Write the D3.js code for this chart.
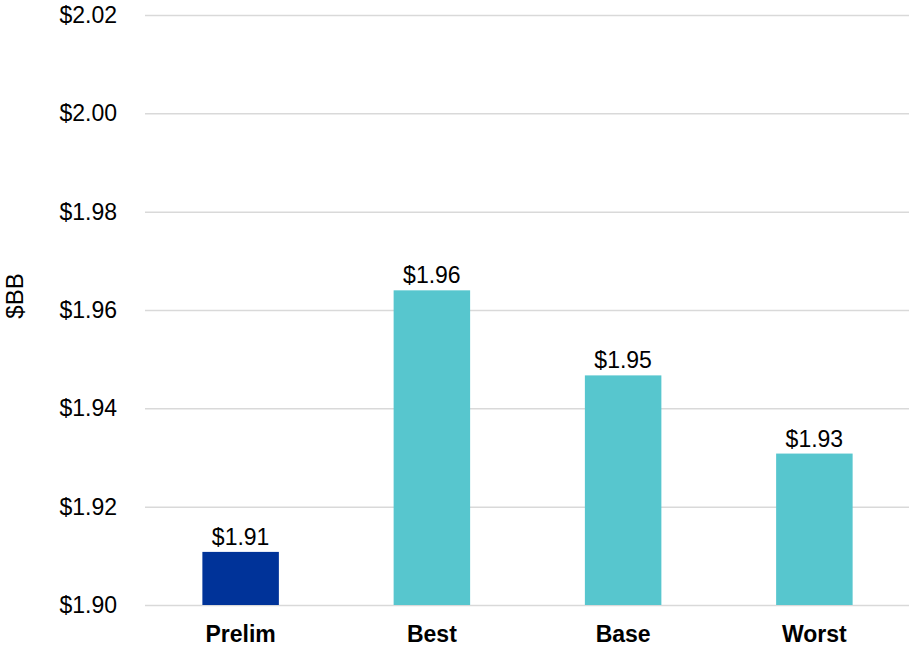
<!DOCTYPE html>
<html>
<head>
<meta charset="utf-8">
<script src="https://cdn.jsdelivr.net/npm/d3@7"></script>
<style>
  html, body { margin: 0; padding: 0; background: #fff; }
  svg { display: block; font-family: "Liberation Sans", Arial, sans-serif; }
</style>
</head>
<body>
<svg id="chart" width="909" height="646"></svg>
<script>
// Scenario totals in billions of dollars
const categories = ["Prelim", "Best", "Base", "Worst"];
const values = [1.9108, 1.9640, 1.9467, 1.9308];
const barColors = ["#003399", "#57C6CE", "#57C6CE", "#57C6CE"];
const yTicks = [1.90, 1.92, 1.94, 1.96, 1.98, 2.00, 2.02];
const yTitle = "$BB";

const svg = d3.select("#chart");
const W = 909, H = 646;
const margin = { top: 15, right: -1, bottom: 41, left: 145 };

const x = d3.scaleBand()
  .domain(categories)
  .range([margin.left, W - margin.right])
  .paddingInner(0.6)
  .paddingOuter(0.3);

const y = d3.scaleLinear()
  .domain([1.90, 2.02])
  .range([H - margin.bottom, margin.top]);

const money = v => "$" + d3.format(".2f")(v);

// Horizontal gridlines with tick labels on the left
const yAxis = d3.axisLeft(y)
  .tickValues(yTicks)
  .tickFormat(money)
  .tickSize(-(W - margin.left - margin.right))
  .tickPadding(28);

const gy = svg.append("g")
  .attr("transform", `translate(${margin.left},0)`)
  .call(yAxis);
gy.select(".domain").remove();
gy.selectAll(".tick line").attr("stroke", "#d9d9d9").attr("stroke-width", 1.5);
gy.selectAll(".tick text")
  .attr("fill", "#000")
  .style("font-size", "23px");

// Bars
svg.append("g").selectAll("rect")
  .data(categories)
  .join("rect")
  .attr("x", d => x(d))
  .attr("width", x.bandwidth())
  .attr("y", (d, i) => y(values[i]))
  .attr("height", (d, i) => y(1.90) - y(values[i]))
  .attr("fill", (d, i) => barColors[i]);

// Value labels above bars
svg.append("g").selectAll("text")
  .data(categories)
  .join("text")
  .attr("x", d => x(d) + x.bandwidth() / 2)
  .attr("y", (d, i) => y(values[i]) - 7)
  .attr("text-anchor", "middle")
  .attr("fill", "#000")
  .style("font-size", "23px")
  .text((d, i) => money(values[i]));

// Category axis
const xAxis = d3.axisBottom(x).tickSize(0).tickPadding(0);
const gx = svg.append("g")
  .attr("transform", `translate(0,${H - margin.bottom})`)
  .call(xAxis);
gx.select(".domain").remove();
gx.selectAll(".tick text")
  .attr("dy", null)
  .attr("y", 37)
  .attr("fill", "#000")
  .style("font-size", "23px")
  .style("font-weight", "bold");

// Y axis title
svg.append("text")
  .attr("transform", "translate(23,296) rotate(-90)")
  .attr("text-anchor", "middle")
  .attr("fill", "#000")
  .style("font-size", "24px")
  .text(yTitle);
</script>
</body>
</html>
